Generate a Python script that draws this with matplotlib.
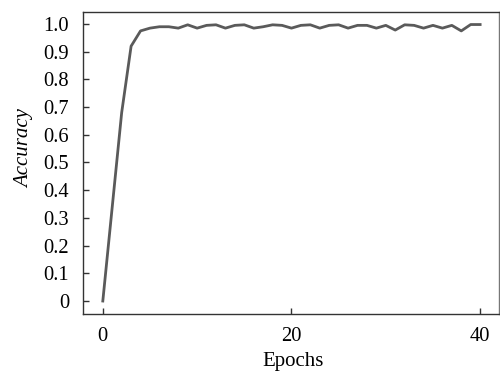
import matplotlib
matplotlib.use("Agg")
import matplotlib.pyplot as plt

epochs = list(range(41))
accuracy = [
    0.0, 0.34, 0.68, 0.92, 0.975, 0.985, 0.99, 0.99, 0.985, 0.997,
    0.985, 0.995, 0.997, 0.985, 0.995, 0.997, 0.985, 0.99, 0.997, 0.995,
    0.985, 0.995, 0.997, 0.985, 0.995, 0.997, 0.985, 0.995, 0.995, 0.985,
    0.995, 0.978, 0.997, 0.995, 0.985, 0.995, 0.985, 0.995, 0.975, 0.998,
    0.998,
]
x_ticks = [0, 20, 40]
y_ticks = [0, 0.1, 0.2, 0.3, 0.4, 0.5, 0.6, 0.7, 0.8, 0.9, 1.0]
y_tick_labels = ["0", "0.1", "0.2", "0.3", "0.4", "0.5", "0.6", "0.7", "0.8", "0.9", "1.0"]

plt.rcParams["font.family"] = ["Liberation Serif", "DejaVu Serif"]

fig = plt.figure(figsize=(5.0, 3.77), dpi=100)
ax = fig.add_axes([0.166, 0.167, 0.832, 0.801])

ax.plot(epochs, accuracy, color="#5a5a5a", linewidth=2.0)

ax.set_xlim(-2.1, 42.0)
ax.set_ylim(-0.047, 1.043)
ax.set_xticks(x_ticks)
ax.set_yticks(y_ticks)
ax.set_yticklabels(y_tick_labels)
ax.tick_params(direction="in", length=4, width=1, labelsize=14.8, color="#333333",
               top=False, right=False)
ax.tick_params(axis="y", pad=10)
ax.tick_params(axis="x", pad=9)

for side in ("top", "bottom", "left", "right"):
    ax.spines[side].set_color("#333333")
    ax.spines[side].set_linewidth(1.0)
ax.spines["right"].set_color("#777777")

ax.set_xlabel("Epochs", fontsize=15)
ax.set_ylabel("Accuracy", fontsize=15, style="italic")
ax.yaxis.set_label_coords(-0.118, 0.548)
ax.xaxis.set_label_coords(0.505, -0.126)

fig.savefig("out.png", dpi=100)
